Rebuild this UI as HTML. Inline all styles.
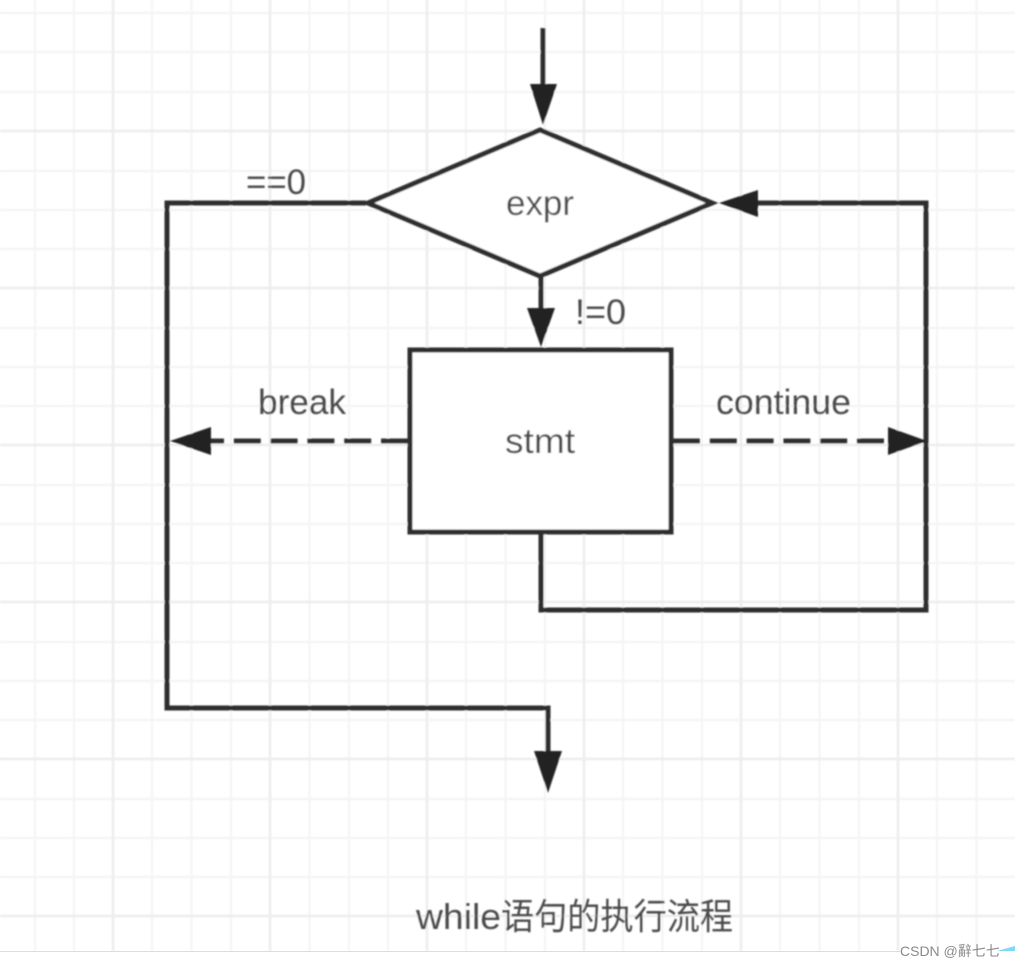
<!DOCTYPE html>
<html><head><meta charset="utf-8">
<style>html,body{margin:0;padding:0;background:#fff}svg{display:block}</style>
</head><body>
<svg width="1015" height="967" viewBox="0 0 1015 967" xmlns="http://www.w3.org/2000/svg">
<defs>
<filter id="b" x="-5%" y="-5%" width="110%" height="110%"><feGaussianBlur stdDeviation="0.8"/></filter>
</defs>
<rect width="1015" height="967" fill="#fff"/>
<g filter="url(#b)">
<g stroke="#f4f4f4" stroke-width="2.200" fill="none">
<path d="M35 0V951M74 0V951M152 0V951M191.500 0V951M231 0V951M309.500 0V951M349 0V951M388 0V951M466 0V951M505.500 0V951M545 0V951M623 0V951M662.500 0V951M702 0V951M780 0V951M819.500 0V951M859 0V951M937 0V951M976.500 0V951"/>
<path d="M0 13H1015M0 52H1015M0 92H1015M0 171H1015M0 210H1015M0 249H1015M0 328H1015M0 367H1015M0 406H1015M0 485H1015M0 524H1015M0 563H1015M0 642H1015M0 681H1015M0 720H1015M0 799H1015M0 838H1015M0 877H1015"/>
</g>
<g stroke="#ededed" stroke-width="2.600" fill="none">
<path d="M113 0V951M270 0V951M427 0V951M584 0V951M741 0V951M898 0V951"/>
<path d="M0 131H1015M0 288H1015M0 445H1015M0 602H1015M0 759H1015M0 916H1015"/>
</g>
<g fill="none" stroke="#2e2e2e" stroke-width="5" stroke-linejoin="miter">
<polygon points="540,130 368,203 540,276 712,203" fill="#fff"/>
<rect x="410" y="350" width="261" height="182" fill="#fff"/>
<path d="M543 28V88"/>
<path d="M541 276V312"/>
<path d="M366 203H167V708H548V755"/>
<path d="M541 532V610H926V203H756"/>
<path d="M673 441H889" stroke-dasharray="27 9.800"/>
<path d="M408 441H208" stroke-dasharray="27 9.800"/>
</g>
<g fill="#222">
<polygon points="530,84 557,84 543,125"/>
<polygon points="527,308 555,308 541,347"/>
<polygon points="534,751 562,751 548,793"/>
<polygon points="758,190 758,217 719,203"/>
<polygon points="888,427 888,455 927,441"/>
<polygon points="211,427 211,455 170,441"/>
</g>
<g font-family="'Liberation Sans','Noto Sans CJK SC',sans-serif" fill="#484848" font-size="35">
<text x="506" y="215" textLength="68" lengthAdjust="spacingAndGlyphs">expr</text>
<text x="505" y="453" textLength="70" lengthAdjust="spacingAndGlyphs">stmt</text>
<text x="246" y="194" textLength="60" lengthAdjust="spacingAndGlyphs">==0</text>
<text x="575" y="324" textLength="51" lengthAdjust="spacingAndGlyphs">!=0</text>
<text x="258" y="414" textLength="88" lengthAdjust="spacingAndGlyphs">break</text>
<text x="716" y="414" textLength="135" lengthAdjust="spacingAndGlyphs">continue</text>
<text x="416" y="929" font-size="36"><tspan textLength="85" lengthAdjust="spacingAndGlyphs">while</tspan><tspan x="501" textLength="232" lengthAdjust="spacingAndGlyphs">语句的执行流程</tspan></text>
</g>
</g>
<rect x="0" y="951" width="1015" height="16" fill="#fff"/>
<rect x="0" y="951" width="900" height="1" fill="#ddd"/>
<polygon points="997,951 1015,946 1015,951" fill="#7fd8f5"/>
<text x="900" y="956" font-family="'Liberation Sans','Noto Sans CJK SC',sans-serif" font-size="14" fill="#8a8a8a">CSDN @<tspan>辭七七</tspan></text>
</svg>
</body></html>
